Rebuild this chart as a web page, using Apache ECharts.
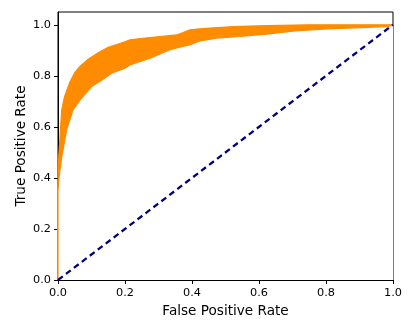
<!DOCTYPE html>
<html>
<head>
<meta charset="utf-8">
<script src="https://cdn.jsdelivr.net/npm/echarts@6/dist/echarts.min.js"></script>
<style>
html, body { margin: 0; padding: 0; background: #fff; }
#roc { width: 415px; height: 332px; }
</style>
</head>
<body>
<div id="roc"></div>
<script>
// upper and lower edge of the orange band of ROC curves
var upperFpr = [0, 0, 0.002, 0.006, 0.011, 0.02, 0.036, 0.05, 0.066, 0.09, 0.12, 0.15, 0.2, 0.215, 0.26, 0.304, 0.354, 0.373, 0.394, 0.424, 0.454, 0.523, 0.623, 0.75, 1];
var upperTpr = [0, 0.35, 0.48, 0.56, 0.667, 0.72, 0.778, 0.812, 0.838, 0.865, 0.89, 0.912, 0.933, 0.941, 0.948, 0.954, 0.96, 0.969, 0.98, 0.984, 0.987, 0.993, 0.997, 1.0, 1.0];
var lowerFpr = [0, 0, 0.003, 0.011, 0.026, 0.045, 0.07, 0.1, 0.125, 0.16, 0.2, 0.215, 0.275, 0.334, 0.394, 0.424, 0.474, 0.543, 0.623, 0.707, 0.806, 0.906, 0.985, 1];
var lowerTpr = [0, 0.35, 0.4, 0.48, 0.59, 0.667, 0.712, 0.758, 0.778, 0.81, 0.83, 0.843, 0.869, 0.902, 0.922, 0.937, 0.948, 0.954, 0.963, 0.976, 0.984, 0.989, 0.993, 1.0];
var chanceLine = [[0, 0], [1, 1]];

function pairs(xs, ys) {
    return xs.map(function (x, i) { return [x, ys[i]]; });
}

var myChart = echarts.init(document.getElementById('roc'));
var font = 'DejaVu Sans';
var tickFmt = function (v) { return v.toFixed(1); };
var option = {
    animation: false,
    grid: {
        left: 58, right: 22, top: 12, bottom: 52,
        show: true, borderColor: '#000', borderWidth: 1
    },
    xAxis: {
        type: 'value', min: 0, max: 1, interval: 0.2,
        name: 'False Positive Rate', nameLocation: 'middle', nameGap: 24, nameMoveOverlap: false,
        nameTextStyle: { fontFamily: font, fontSize: 13.6, color: '#000' },
        axisLine: { lineStyle: { color: '#000' } },
        axisTick: { length: 4, lineStyle: { color: '#000' } },
        axisLabel: { fontFamily: font, fontSize: 11.3, color: '#000', margin: 8, formatter: tickFmt },
        splitLine: { show: false }
    },
    yAxis: {
        type: 'value', min: 0, max: 1.05, interval: 0.2,
        name: 'True Positive Rate', nameLocation: 'middle', nameGap: 30, nameMoveOverlap: false,
        nameTextStyle: { fontFamily: font, fontSize: 13.6, color: '#000' },
        axisLine: { lineStyle: { color: '#000' } },
        axisTick: { length: 4, lineStyle: { color: '#000' } },
        axisLabel: { fontFamily: font, fontSize: 11.3, color: '#000', margin: 7, showMaxLabel: false, formatter: tickFmt },
        splitLine: { show: false }
    },
    series: [
        {
            type: 'line', data: pairs(upperFpr, upperTpr), symbol: 'none', z: 2,
            lineStyle: { color: '#ff8c00', width: 1.2 },
            areaStyle: { color: '#ff8c00', opacity: 1 }
        },
        {
            type: 'line', data: pairs(lowerFpr, lowerTpr), symbol: 'none', z: 3,
            lineStyle: { color: '#ff8c00', width: 1.2 },
            areaStyle: { color: '#ffffff', opacity: 1 }
        },
        {
            type: 'line', data: chanceLine, symbol: 'none', z: 5,
            lineStyle: { color: '#000080', width: 2.3, type: [6, 4] }
        }
    ]
};
myChart.setOption(option);
</script>
</body>
</html>
